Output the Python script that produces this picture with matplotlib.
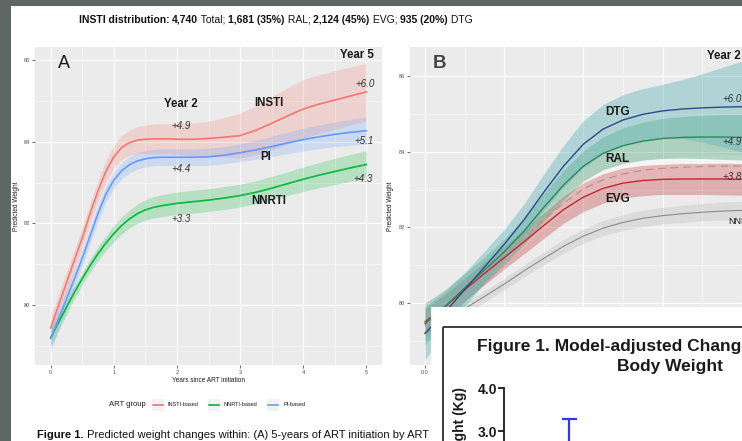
import numpy as np
import matplotlib.pyplot as plt
from matplotlib.patches import Rectangle
from matplotlib.lines import Line2D

plt.rcParams['font.family'] = ['Liberation Sans', 'DejaVu Sans']

W, H = 742, 441

# ---- panel A: predicted weight over 5 years, by ART group
years_a = [0, 0.125, 0.25, 0.375, 0.5, 0.625, 0.75, 0.875, 1, 1.125, 1.25, 1.375,
           1.5, 1.625, 1.75, 1.875, 2, 2.25, 2.5, 2.75, 3, 3.25, 3.5, 3.75,
           4, 4.25, 4.5, 4.75, 5]
insti = [79.44, 80.00, 80.55, 81.10, 81.65, 82.25, 82.80, 83.28, 83.63, 83.86, 83.98, 84.04,
         84.06, 84.07, 84.07, 84.07, 84.06, 84.06, 84.08, 84.11, 84.15, 84.28, 84.45, 84.63,
         84.80, 84.92, 85.02, 85.12, 85.22]
insti_hw = [0.30, 0.28, 0.27, 0.26, 0.25, 0.25, 0.26, 0.27, 0.28, 0.30, 0.31, 0.33,
            0.35, 0.36, 0.37, 0.37, 0.38, 0.40, 0.42, 0.48, 0.55, 0.60, 0.65, 0.69,
            0.72, 0.72, 0.72, 0.71, 0.70]
pi = [79.18, 79.66, 80.15, 80.64, 81.15, 81.70, 82.25, 82.72, 83.06, 83.29, 83.44, 83.53,
      83.58, 83.61, 83.62, 83.62, 83.62, 83.62, 83.63, 83.67, 83.73, 83.80, 83.88, 83.97,
      84.05, 84.12, 84.18, 84.23, 84.27]
pi_hw = [0.30, 0.27, 0.24, 0.22, 0.20, 0.20, 0.20, 0.20, 0.20, 0.20, 0.20, 0.20,
         0.20, 0.20, 0.20, 0.20, 0.20, 0.20, 0.21, 0.21, 0.22, 0.23, 0.25, 0.26,
         0.28, 0.29, 0.30, 0.32, 0.33]
nnrti = [79.20, 79.58, 79.95, 80.31, 80.65, 80.97, 81.26, 81.52, 81.75, 81.95, 82.11, 82.24,
         82.33, 82.39, 82.43, 82.46, 82.49, 82.53, 82.57, 82.62, 82.68, 82.76, 82.86, 82.97,
         83.08, 83.18, 83.27, 83.36, 83.44]
nnrti_hw = [0.22, 0.20, 0.18, 0.16, 0.15, 0.16, 0.17, 0.18, 0.20, 0.21, 0.22, 0.24,
            0.25, 0.26, 0.27, 0.27, 0.28, 0.28, 0.28, 0.28, 0.28, 0.28, 0.29, 0.29,
            0.30, 0.31, 0.32, 0.33, 0.34]
groups_a = ['INSTI-based', 'NNRTI-based', 'PI-based']

# ---- panel B: first 2 years, by INSTI drug
years_b = [0, 0.125, 0.25, 0.375, 0.5, 0.625, 0.75, 0.875, 1,
           1.125, 1.25, 1.375, 1.5, 1.625, 1.75, 1.875, 2]
dtg = [79.20, 79.75, 80.35, 80.95, 81.55, 82.20, 82.93, 83.62, 84.20,
       84.60, 84.84, 84.99, 85.08, 85.13, 85.16, 85.18, 85.19]
dtg_hw = [0.70, 0.55, 0.45, 0.42, 0.40, 0.42, 0.48, 0.55, 0.62,
          0.65, 0.67, 0.68, 0.70, 0.78, 0.90, 1.05, 1.20]
ral = [79.45, 79.90, 80.40, 80.87, 81.35, 81.90, 82.53, 83.12, 83.62,
       83.96, 84.16, 84.28, 84.35, 84.38, 84.39, 84.39, 84.38]
ral_hw = [0.55, 0.45, 0.38, 0.35, 0.34, 0.35, 0.37, 0.39, 0.40,
          0.43, 0.47, 0.50, 0.53, 0.55, 0.57, 0.59, 0.60]
evg = [79.50, 79.90, 80.35, 80.78, 81.20, 81.62, 82.05, 82.47, 82.80,
       83.03, 83.17, 83.24, 83.27, 83.28, 83.28, 83.28, 83.27]
evg_hw = [0.35, 0.32, 0.30, 0.30, 0.30, 0.32, 0.34, 0.36, 0.38,
          0.39, 0.40, 0.40, 0.40, 0.41, 0.41, 0.42, 0.42]
insti_b = [79.40, 79.85, 80.30, 80.80, 81.25, 81.72, 82.20, 82.64, 83.02,
           83.26, 83.41, 83.51, 83.56, 83.59, 83.61, 83.62, 83.62]
insti_b_hw = [0.25, 0.22, 0.20, 0.20, 0.20, 0.21, 0.22, 0.23, 0.24,
              0.25, 0.26, 0.27, 0.28, 0.28, 0.29, 0.30, 0.30]
nnrti_b = [79.20, 79.50, 79.85, 80.17, 80.50, 80.85, 81.18, 81.50, 81.77,
           81.98, 82.13, 82.24, 82.31, 82.36, 82.40, 82.43, 82.45]
nnrti_b_hw = [0.18, 0.16, 0.15, 0.15, 0.15, 0.16, 0.17, 0.18, 0.19,
              0.20, 0.21, 0.22, 0.22, 0.23, 0.23, 0.24, 0.24]

# ---- overlaid second poster figure (only its corner shows)
inset_err_x = [0.254]
inset_err_mid = [2.6]
inset_err_up = [0.68]

red, green, blue = '#F8766D', '#00BA38', '#619CFF'


def px(x, y):
    return x / W, 1 - y / H


def ggpanel(ax, xl, yl, xmaj, xmin, xlabels):
    ax.set_facecolor('#EBEBEB')
    ax.set_xlim(*xl)
    ax.set_ylim(*yl)
    ax.set_xticks(xmaj)
    ax.set_xticklabels(xlabels)
    ax.set_xticks(xmin, minor=True)
    ax.set_yticks([80, 82, 84, 86])
    ax.set_yticks([79, 81, 83, 85], minor=True)
    ax.grid(which='major', color='white', lw=0.8)
    ax.grid(which='minor', color='white', lw=0.4)
    ax.set_axisbelow(True)
    for s in ax.spines.values():
        s.set_visible(False)
    ax.tick_params(which='major', length=2, width=0.5, color='#333333',
                   labelsize=4, labelcolor='#4d4d4d', pad=1.5)
    ax.tick_params(which='minor', length=0)


def run_text(pieces, x0, y, width, size=10):
    r = fig.canvas.get_renderer()
    ts = [fig.text(0, 0, s, fontsize=size, fontweight=w, va='center', color='#111111')
          for s, w in pieces]
    ws = [t.get_window_extent(r).width for t in ts]
    k = width / sum(ws)
    cx = x0
    for t, wd in zip(ts, ws):
        t.set_fontsize(size * k)
        t.set_position(px(cx, y))
        cx += wd * k


fig = plt.figure(figsize=(W / 100, H / 100), dpi=100)
fig.patch.set_facecolor('white')

# ---------------- panel A
ax = fig.add_axes([35 / W, 1 - 365 / H, 347 / W, 318 / H])
ggpanel(ax, (-0.25, 5.25), (78.53, 86.32), range(6), np.arange(0.5, 5, 1),
        [str(i) for i in range(6)])
lines_a = []
for y, hw, c in [(insti, insti_hw, red), (nnrti, nnrti_hw, green), (pi, pi_hw, blue)]:
    y = np.array(y)
    hw = np.array(hw)
    ax.fill_between(years_a, y - hw, y + hw, color=c, alpha=0.22, lw=0)
for y, c in [(insti, red), (nnrti, green), (pi, blue)]:
    l, = ax.plot(years_a, y, color=c, lw=1.2, solid_joinstyle='round')
    lines_a.append(l)

fig.text(*px(63.5, 64), 'A', fontsize=13, ha='center', va='center', color='#1a1a1a')
for x, y, s in [(181, 104, 'Year 2'), (269, 103, 'INSTI'), (265.5, 157, 'PI'),
                (269, 201, 'NNRTI'), (357, 55, 'Year 5')]:
    fig.text(*px(x, y), s, fontsize=8.3, fontweight='bold', ha='center', va='center',
             color='#1a1a1a')
for x, y, s in [(181, 126, '+4.9'), (181, 169, '+4.4'), (181, 219, '+3.3'),
                (364.5, 84, '+6.0'), (364, 141, '+5.1'), (363, 179, '+4.3')]:
    fig.text(*px(x, y), s, fontsize=7, style='italic', ha='center', va='center',
             color='#333333')

fig.text(*px(16, 206), 'Predicted Weight', fontsize=4.7, rotation=90,
         ha='center', va='center', color='#1a1a1a')
fig.text(*px(208, 381), 'Years since ART initiation', fontsize=4.7,
         ha='center', va='center', color='#1a1a1a')

# legend (ggplot style, title on the left)
fig.text(*px(127, 405), 'ART group', fontsize=5.5, ha='center', va='center',
         color='#1a1a1a')
for kx, lab, l in zip([153, 209, 268], groups_a, lines_a):
    fig.patches.append(Rectangle(px(kx - 1, 411), 12 / W, 12 / H,
                                 transform=fig.transFigure, color='#F2F2F2', lw=0))
    fig.lines.append(Line2D([(kx) / W, (kx + 10) / W], [1 - 405 / H] * 2,
                            transform=fig.transFigure, color=l.get_color(), lw=1.2))
    fig.text(*px(kx + 15, 405), lab, fontsize=4, ha='left', va='center',
             color='#1a1a1a')

# ---------------- panel B (its lower part is hidden behind the white card)
bx = fig.add_axes([410 / W, 1 - 365 / H, 348 / W, 318 / H])
ggpanel(bx, (-0.095, 2.103), (78.36, 86.77), [0, 0.5, 1, 1.5, 2],
        np.arange(0.25, 2, 0.5), ['0.0', '', '', '', ''])
bands_b = [(nnrti_b, nnrti_b_hw, '#c8c8c8', 0.45),
           (insti_b, insti_b_hw, 'white', 0.55),
           (evg, evg_hw, '#c3262e', 0.3),
           (ral, ral_hw, '#3d9e6e', 0.35),
           (dtg, dtg_hw, '#5fb4b9', 0.42)]
for y, hw, c, a in bands_b:
    y = np.array(y)
    hw = np.array(hw)
    bx.fill_between(years_b, y - hw, y + hw, color=c, alpha=a, lw=0)
bx.plot(years_b, nnrti_b, color='#8c8c8c', lw=0.8)
bx.plot(years_b, insti_b, color='#b39494', lw=0.9, ls=(0, (6, 4)))
bx.plot(years_b, evg, color='#c3262e', lw=1.0, solid_joinstyle='round')
bx.plot(years_b, ral, color='#2a8a5a', lw=1.0, solid_joinstyle='round')
bx.plot(years_b, dtg, color='#2b4a8e', lw=1.0, solid_joinstyle='round')

fig.text(*px(439.5, 64), 'B', fontsize=13.5, fontweight='bold', ha='center',
         va='center', color='#444444')
for x, y, s in [(617.5, 112, 'DTG'), (617.5, 159, 'RAL'), (618, 199, 'EVG')]:
    fig.text(*px(x, y), s, fontsize=8.5, fontweight='bold', ha='center', va='center',
             color='#1a1a1a')
fig.text(*px(707, 56), 'Year 2', fontsize=8.3, fontweight='bold', ha='left',
         va='center', color='#1a1a1a')
for y, s in [(99, '+6.0'), (142, '+4.9'), (177, '+3.8')]:
    fig.text(*px(722, y), s, fontsize=7, style='italic', ha='left', va='center',
             color='#333333')
fig.text(*px(728, 222), 'NNRTI', fontsize=6.5, ha='left', va='center',
         color='#1a1a1a')
fig.text(*px(391, 206), 'Predicted Weight', fontsize=4.7, rotation=90,
         ha='center', va='center', color='#1a1a1a')

# ---------------- overlaid figure (white card)
ov = fig.add_axes([431 / W, 0, (W - 431) / W, (441 - 307) / H])
ov.set_zorder(5)
ov.set_facecolor('white')
ov.set_xlim(431, W)
ov.set_ylim(441, 307)
ov.set_xticks([])
ov.set_yticks([])
for s in ov.spines.values():
    s.set_visible(False)
ov.add_patch(Rectangle((443, 327), 400, 200, fill=False, lw=1.3, ec='#2e2e2e'))

r = fig.canvas.get_renderer()
t = ov.text(477, 347, 'Figure 1. Model-adjusted Chang', fontsize=10,
            fontweight='bold', va='center', color='#1a1a1a')
k = 265 / t.get_window_extent(r).width
t.set_text('Figure 1. Model-adjusted Change in')
t.set_fontsize(10 * k)
ov.text(617, 367, 'Body Weight', fontsize=10 * k, fontweight='bold',
        va='center', color='#1a1a1a')
ov.text(460, 387, 'Weight (Kg)', fontsize=10, fontweight='bold', rotation=90,
        ha='center', va='top', color='#1a1a1a')

ix = fig.add_axes([504 / W, 1 - 495.5 / H, 256 / W, 107.5 / H])
ix.set_zorder(6)
ix.patch.set_alpha(0)
ix.set_xlim(0, 1)
ix.set_ylim(1.5, 4.0)
ix.set_xticks([])
ix.set_yticks([3.0, 4.0])
ix.set_yticklabels(['3.0', '4.0'], fontweight='bold')
ix.tick_params(axis='y', length=4.5, width=1.3, labelsize=10, pad=0.5,
               labelcolor='#1a1a1a', color='#1a1a1a')
for n in ['top', 'right', 'bottom']:
    ix.spines[n].set_visible(False)
ix.spines['left'].set_linewidth(1.3)
ix.spines['left'].set_color('#1a1a1a')
ix.errorbar(inset_err_x, inset_err_mid, yerr=[inset_err_up, inset_err_up],
            fmt='none', ecolor='#3333ff', elinewidth=1.6, capsize=5.4, capthick=1.6)

# ---------------- poster title, caption, dark frame
run_text([('INSTI distribution: ', 'bold'), ('4,740', 'bold'), (' Total; ', 'normal'),
          ('1,681 (35%)', 'bold'), (' RAL; ', 'normal'), ('2,124 (45%)', 'bold'),
          (' EVG; ', 'normal'), ('935 (20%)', 'bold'), (' DTG', 'normal')],
         79, 20, 394)
run_text([('Figure 1.', 'bold'),
          (' Predicted weight changes within: (A) 5-years of ART initiation by ART',
           'normal')], 37, 435, 391)

fig.patches.append(Rectangle((0, 0), 11 / W, 1, transform=fig.transFigure,
                             color='#5e6763', lw=0, zorder=10))
fig.patches.append(Rectangle((0, 1 - 6 / H), 1, 6 / H, transform=fig.transFigure,
                             color='#5e6763', lw=0, zorder=10))

fig.savefig('out.png', dpi=100)
